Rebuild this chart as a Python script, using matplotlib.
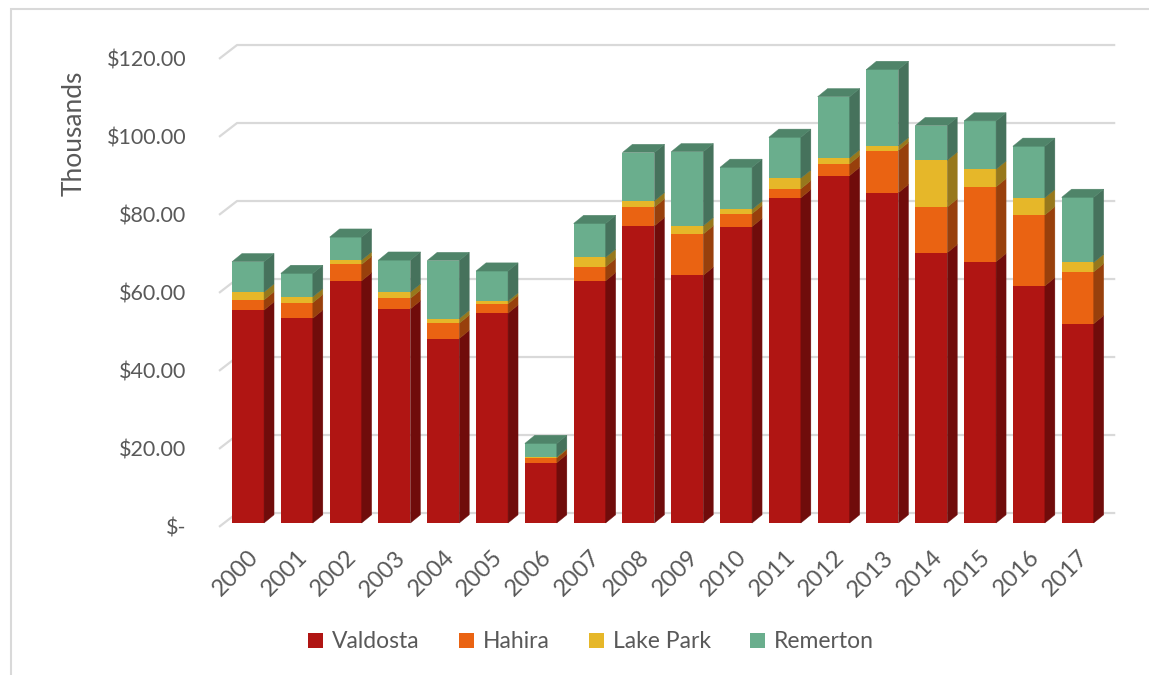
import matplotlib
matplotlib.use("Agg")
import matplotlib.pyplot as plt
from matplotlib.patches import Polygon, Patch, Rectangle
import numpy as np

years = [str(y) for y in range(2000, 2018)]
valdosta = [54.6, 52.5, 62.1, 54.9, 47.3, 53.8, 15.5, 62.1, 76.2, 63.5, 76.0, 83.4, 89.1, 84.7, 69.3, 67.0, 60.8, 51.1]
hahira = [2.6, 4.0, 4.2, 2.7, 3.9, 2.4, 1.2, 3.6, 4.8, 10.6, 3.3, 2.3, 3.0, 10.8, 11.7, 19.2, 18.2, 13.3]
lake_park = [2.0, 1.5, 1.1, 1.6, 1.2, 0.7, 0.2, 2.4, 1.6, 2.1, 1.1, 2.7, 1.5, 1.2, 12.0, 4.5, 4.4, 2.4]
remerton = [7.8, 6.0, 5.9, 8.2, 14.9, 7.7, 3.5, 8.7, 12.4, 19.0, 10.8, 10.5, 15.7, 19.6, 8.9, 12.4, 13.2, 16.7]

series = ["Valdosta", "Hahira", "Lake Park", "Remerton"]
front_colors = ["#B01513", "#EA6312", "#E6B729", "#6AAE8D"]
side_colors = ["#700C0B", "#98400C", "#97781C", "#46725C"]
top_colors = ["#8E1110", "#C0520F", "#C09A22", "#4F8469"]
yticks = [0, 20, 40, 60, 80, 100, 120]
ytick_labels = ["$-", "$20.00", "$40.00", "$60.00", "$80.00", "$100.00", "$120.00"]

plt.rcParams["font.family"] = ["Lato", "DejaVu Sans"]
text_color = "#595959"
grid_color = "#D9D9D9"

fig = plt.figure(figsize=(11.49, 6.75), dpi=100)
ax = fig.add_axes([210 / 1149, (675 - 542.5) / 675, 915 / 1149, 507 / 675])
ax.set_xlim(-0.779, 17.97)
ax.set_ylim(-5, 125)

# fake 3d depth (in data units)
bar_w = 0.656
dx, dy = 0.205, 2.1
wall_back, wall_front = 2.56, -1.0
wall_left, wall_corner, wall_right = -0.594, -0.225, 17.77

for v in yticks:
    ax.plot([wall_left, wall_corner, wall_right],
            [v + wall_front, v + wall_back, v + wall_back],
            color=grid_color, lw=1.6, zorder=1, solid_capstyle="butt")

x = np.arange(len(years))
data = [valdosta, hahira, lake_park, remerton]
bottom = np.zeros(len(years))
for k, vals in enumerate(data):
    vals = np.array(vals)
    ax.bar(x, vals, bar_w, bottom=bottom, color=front_colors[k], zorder=3,
           edgecolor="none")
    for i in range(len(years)):
        xl = x[i] - bar_w / 2
        xr = x[i] + bar_w / 2
        y0 = bottom[i]
        y1 = bottom[i] + vals[i]
        ax.add_patch(Polygon([(xr, y0), (xr + dx, y0 + dy), (xr + dx, y1 + dy), (xr, y1)],
                             closed=True, fc=side_colors[k], ec=side_colors[k], lw=0.3,
                             zorder=3))
        if k == len(data) - 1:
            ax.add_patch(Polygon([(xl, y1), (xl + dx, y1 + dy), (xr + dx, y1 + dy), (xr, y1)],
                                 closed=True, fc=top_colors[k], ec=top_colors[k], lw=0.3,
                                 zorder=3))
    bottom = bottom + vals

for s in ax.spines.values():
    s.set_visible(False)

ax.set_yticks([v + wall_front for v in yticks], ytick_labels)
ax.tick_params(axis="y", length=0, pad=17, labelsize=15.5, labelcolor=text_color)
ax.set_xticks(x, years)
ax.tick_params(axis="x", length=0, pad=3, labelsize=17, labelcolor=text_color)
for lab in ax.get_xticklabels():
    lab.set_rotation(45)
    lab.set_ha("right")
    lab.set_rotation_mode("anchor")

fig.text(74 / 1149, 1 - 133 / 675, "Thousands", rotation=90, ha="center", va="center",
         fontsize=19, color=text_color)

handles = [Patch(facecolor=c, edgecolor="none") for c in front_colors]
fig.legend(handles, series, loc="center", bbox_to_anchor=(591 / 1149, 1 - 642 / 675),
           ncol=4, frameon=False, fontsize=16.5, labelcolor=text_color,
           handlelength=0.65, handleheight=0.65, handletextpad=0.4, columnspacing=1.7)

fig.patches.append(Rectangle((10.5 / 1149, -0.1), 1.2, (675 - 9) / 675 + 0.1,
                             transform=fig.transFigure, fill=False,
                             ec=grid_color, lw=1.5))

fig.savefig("out.png", dpi=100)
